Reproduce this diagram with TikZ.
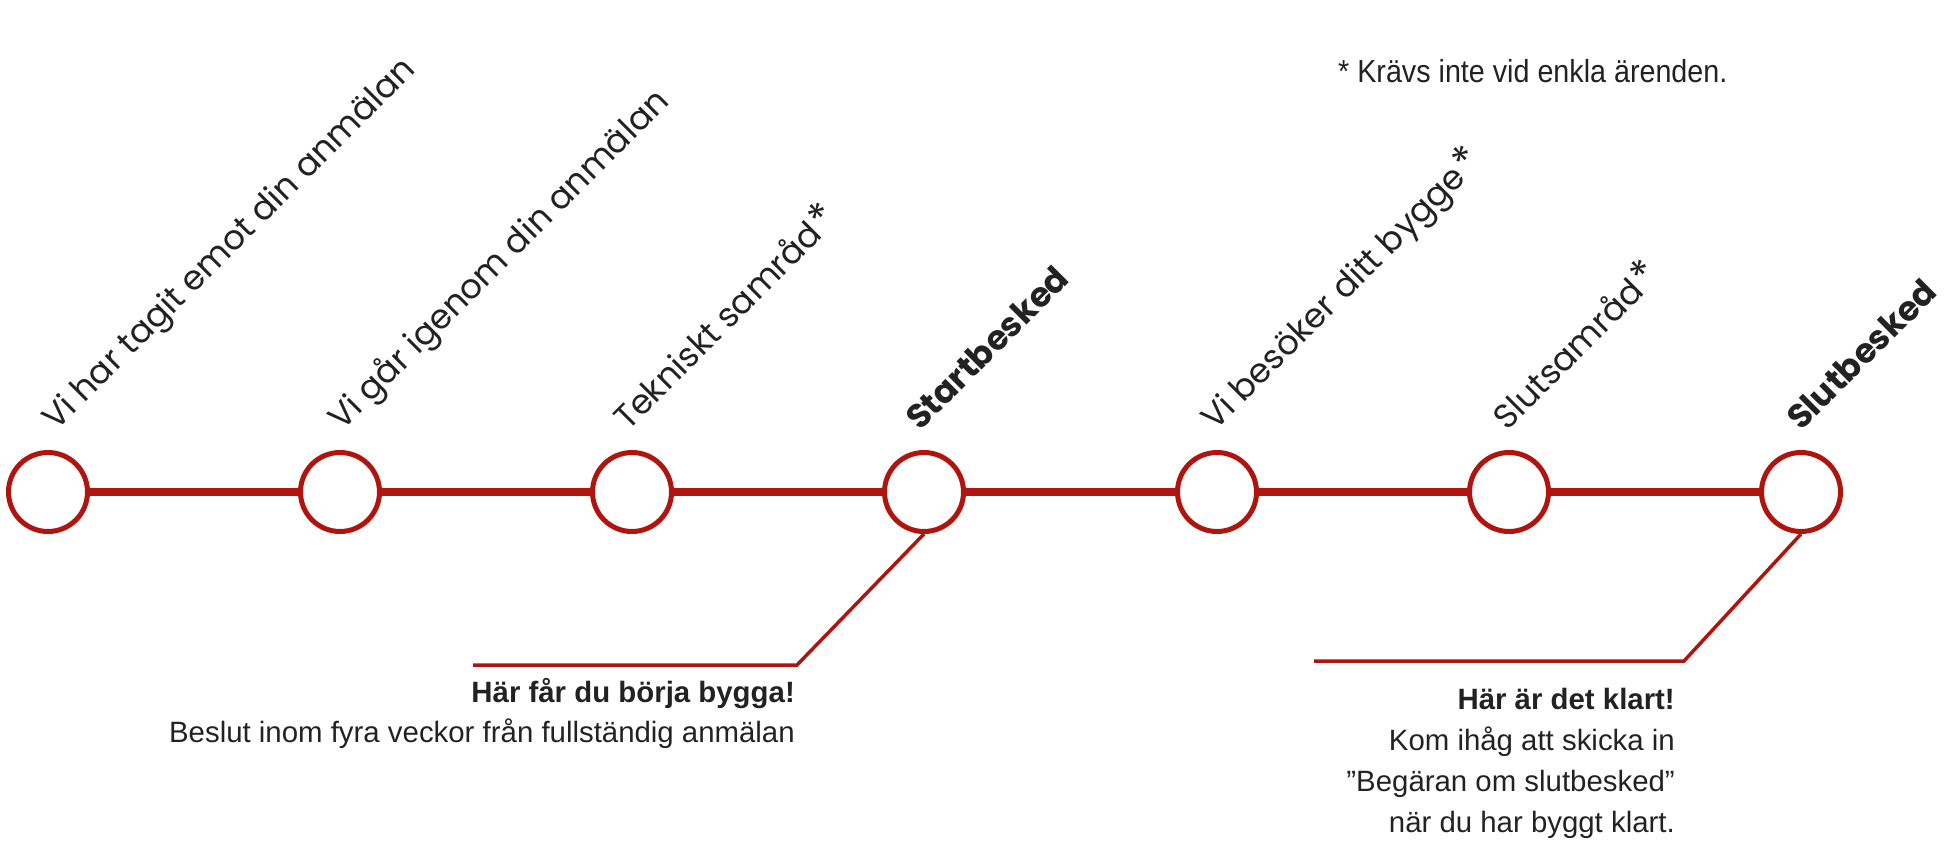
\documentclass[tikz,border=0pt]{standalone}
\usepackage{fontspec}
\setmainfont{Liberation Sans}
\newfontfamily\stepfont{Poppins}
\newfontfamily\notefont[FakeStretch=0.9]{Liberation Sans}
\usetikzlibrary{positioning}

\begin{document}
\begin{tikzpicture}[x=1bp,y=-1bp]
	\definecolor{linered}{RGB}{176,20,14}
	\definecolor{textgray}{RGB}{34,34,34}
	\tikzset{
		station/.style={circle,draw=linered,line width=5bp,fill=white,minimum size=79bp,inner sep=0pt},
		track/.style={draw=linered,line width=8.5bp},
		leader/.style={draw=linered,line width=3.5bp},
		steplabel/.style={rotate=45,anchor=base west,inner sep=0pt,text=textgray,font=\stepfont\fontsize{34}{40}\selectfont},
		boldlabel/.style={steplabel,font=\stepfont\bfseries\fontsize{34}{40}\selectfont},
		infotext/.style={anchor=base east,align=right,inner sep=0pt,text=textgray}
	}
	\newcommand{\opt}{\hspace{2bp}{\fontsize{42}{40}\selectfont *}}
	\useasboundingbox (0,0) rectangle (1947,865);
	% stations
	\node[station] (c1) at (48,492) {};
	\node[station] (c2) at (340,492) {};
	\node[station] (c3) at (632,492) {};
	\node[station] (c4) at (924,492) {};
	\node[station] (c5) at (1217,492) {};
	\node[station] (c6) at (1509,492) {};
	\node[station] (c7) at (1801,492) {};
	\draw[track] (c1) -- (c2);
	\draw[track] (c2) -- (c3);
	\draw[track] (c3) -- (c4);
	\draw[track] (c4) -- (c5);
	\draw[track] (c5) -- (c6);
	\draw[track] (c6) -- (c7);
	% rotated step labels
	\node[steplabel] (l1) at ([xshift=8bp,yshift=18bp]c1.north) {Vi har tagit emot din anmälan};
	\node[steplabel] (l2) at ([xshift=2bp,yshift=18bp]c2.north) {Vi går igenom din anmälan};
	\node[steplabel] (l3) at ([xshift=-4bp,yshift=18bp]c3.north) {Tekniskt samråd\opt};
	\node[boldlabel] (l4) at ([xshift=-4bp,yshift=18bp]c4.north) {Startbesked};
	\node[steplabel] (l5) at ([xshift=-2bp,yshift=18bp]c5.north) {Vi besöker ditt bygge\opt};
	\node[steplabel] (l6) at ([xshift=-2bp,yshift=18bp]c6.north) {Slutsamråd\opt};
	\node[boldlabel] (l7) at ([xshift=0bp,yshift=18bp]c7.north) {Slutbesked};
	% leaders and notes
	\coordinate (k1) at (797,665);
	\coordinate (k2) at (473,665);
	\coordinate (k3) at (1684,661);
	\coordinate (k4) at (1314,661);
	\draw[leader] (c4.south) -- (k1) -- (k2);
	\draw[leader] (c7.south) -- (k3) -- (k4);
	\node[infotext,font=\fontsize{29.5}{40}\selectfont] (n1) at (795,742) {\textbf{Här får du börja bygga!}\\Beslut inom fyra veckor från fullständig anmälan};
	\node[infotext,font=\fontsize{29.5}{41}\selectfont] (n2) at (1675,832) {\textbf{Här är det klart!}\\Kom ihåg att skicka in\\”Begäran om slutbesked”\\när du har byggt klart.};
	\node[anchor=base west,inner sep=0pt,text=textgray,font=\notefont\fontsize{32}{36}\selectfont] (fn) at (1338,82) {* Krävs inte vid enkla ärenden.};
\end{tikzpicture}
\end{document}
